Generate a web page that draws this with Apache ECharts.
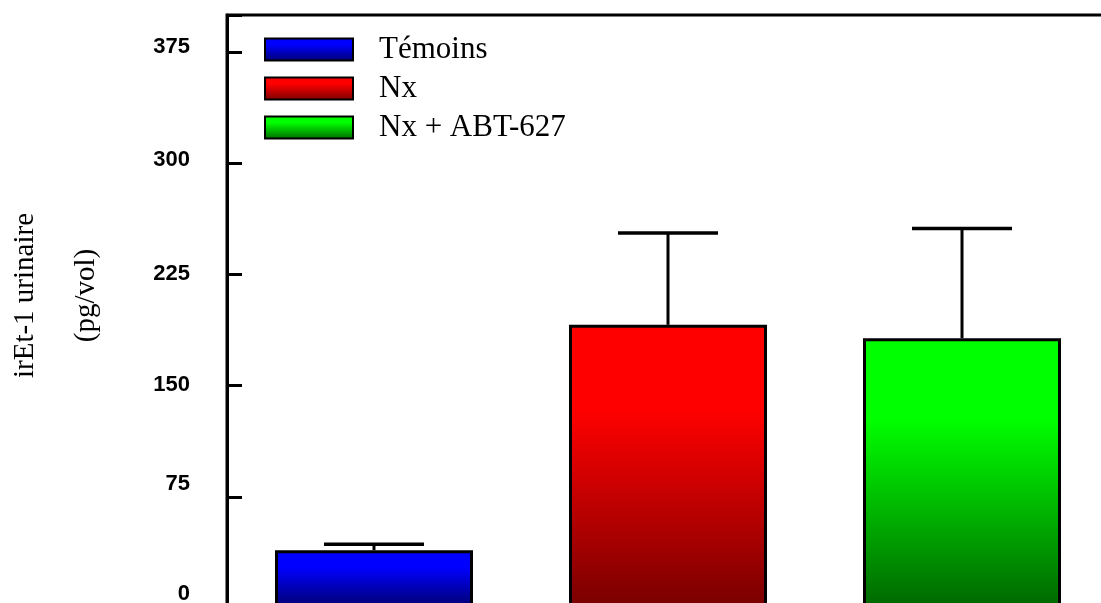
<!DOCTYPE html>
<html>
<head>
<meta charset="utf-8">
<script src="https://cdn.jsdelivr.net/npm/echarts@6/dist/echarts.min.js"></script>
<style>
html,body{margin:0;padding:0;background:#fff;}
#c{width:1101px;height:603px;}
</style>
</head>
<body>
<div id="c"></div>
<script>
// ---- data ----
const categories = ['Témoins', 'Nx', 'Nx + ABT-627'];
const means = [39, 191, 182];
const sem = [4, 62, 74];
const yMin = 0, yMax = 400, yInterval = 75;
const yTitle = 'irEt-1 urinaire\n(pg/vol)';
// label vertical nudges (px) as drawn in the original
const labelShift = {0: 14, 75: 13, 150: 1, 225: 1, 300: 3, 375: 5};

const topColors = ['#0000ff', '#ff0000', '#00ff00'];
const bottomColors = ['#00006e', '#780000', '#006600'];

function grad(i) {
  return new echarts.graphic.LinearGradient(0, 0, 0, 1, [
    {offset: 0, color: topColors[i]},
    {offset: 0.3, color: topColors[i]},
    {offset: 1, color: bottomColors[i]}
  ]);
}

const chart = echarts.init(document.getElementById('c'), null, {renderer: 'canvas'});

const barSeries = categories.map((name, i) => ({
  name: name,
  type: 'bar',
  barWidth: 198,
  barGap: '-100%',
  data: categories.map((c, j) => j === i ? means[i] : '-'),
  itemStyle: {color: grad(i), borderColor: '#000', borderWidth: 3},
  emphasis: {disabled: true},
  z: 2
}));

const errData = means.map((m, i) => [i, m, m + sem[i]]);

const rich = {};
Object.keys(labelShift).forEach(k => {
  rich['s' + k] = {
    fontFamily: 'Liberation Sans', fontWeight: 'bold', fontSize: 22, color: '#000',
    padding: [0, 0, labelShift[k] * 2, 0]
  };
});

chart.setOption({
  animation: false,
  backgroundColor: '#fff',
  grid: {
    left: 227, top: 15, width: 882, height: 593,
    show: true, borderColor: '#000', borderWidth: 3,
    containLabel: false, outerBoundsMode: 'none'
  },
  legend: {
    data: categories,
    orient: 'vertical',
    left: 264, top: 34,
    padding: 0,
    icon: 'rect',
    itemWidth: 88, itemHeight: 22, itemGap: 8,
    selectedMode: false,
    textStyle: {
      fontFamily: 'Liberation Serif', fontSize: 31, color: '#000',
      padding: [0, 0, 0, 21]
    }
  },
  xAxis: {
    type: 'category',
    data: categories,
    axisLine: {show: false},
    axisTick: {show: false},
    axisLabel: {show: false},
    splitLine: {show: false}
  },
  yAxis: {
    type: 'value',
    min: yMin, max: yMax, interval: yInterval,
    axisLine: {show: true, lineStyle: {color: '#000', width: 3}},
    axisTick: {show: true, inside: true, length: 15, lineStyle: {color: '#000', width: 3}},
    splitLine: {show: false},
    axisLabel: {
      margin: 37,
      fontFamily: 'Liberation Sans', fontWeight: 'bold', fontSize: 22, color: '#000',
      formatter: v => (labelShift[v] === undefined ? '' : '{s' + v + '|' + v + '}'),
      rich: rich
    },
    name: yTitle,
    nameLocation: 'middle',
    nameRotate: 90,
    nameGap: 110,
    nameTextStyle: {
      fontFamily: 'Liberation Serif', fontSize: 29, color: '#000',
      lineHeight: 61, padding: [0, 0, 0, 32]
    }
  },
  series: barSeries.concat([{
    type: 'custom',
    name: 'err',
    data: errData,
    encode: {x: 0, y: [1, 2]},
    z: 3,
    silent: true,
    renderItem: function (params, api) {
      const x = api.value(0);
      const p0 = api.coord([x, api.value(1)]);
      const p1 = api.coord([x, api.value(2)]);
      const half = 50;
      return {
        type: 'group',
        children: [
          {type: 'line', shape: {x1: p0[0], y1: p0[1], x2: p1[0], y2: p1[1]},
           style: {stroke: '#000', lineWidth: 3}},
          {type: 'line', shape: {x1: p1[0] - half, y1: p1[1], x2: p1[0] + half, y2: p1[1]},
           style: {stroke: '#000', lineWidth: 3.5}}
        ]
      };
    }
  }])
});
</script>
</body>
</html>
